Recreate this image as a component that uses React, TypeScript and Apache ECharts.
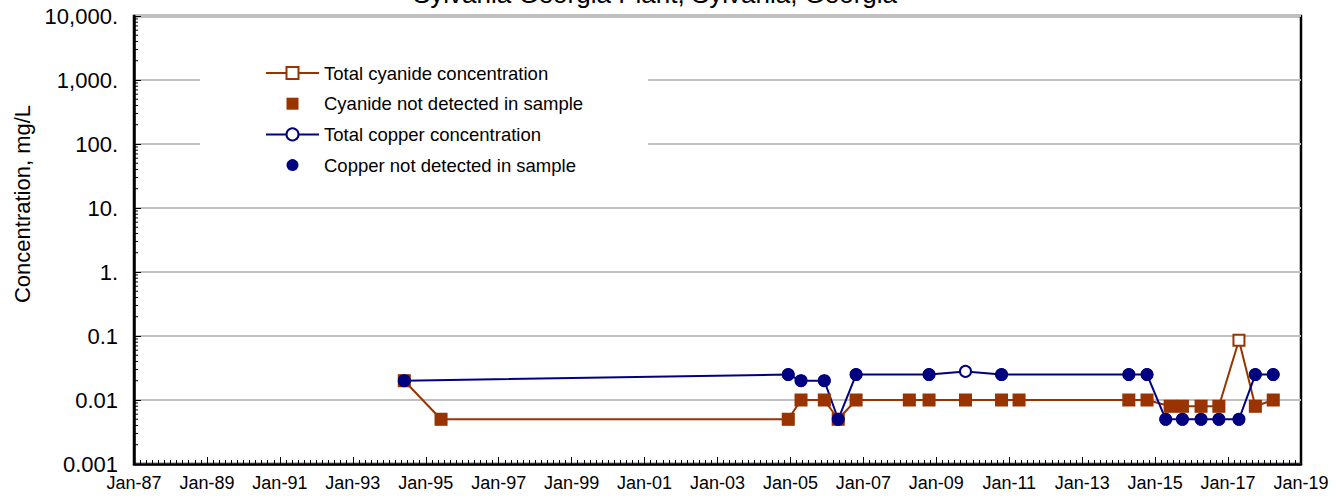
import React, { useEffect, useRef } from "react";
import * as echarts from "echarts";

const titleText = "Sylvania Georgia Plant, Sylvania, Georgia";
const yAxisTitle = "Concentration, mg/L";

const legendNames = [
  "Total cyanide concentration",
  "Cyanide not detected in sample",
  "Total copper concentration",
  "Copper not detected in sample",
];

const cyanideDates = [
  "1994-05-31", "1995-06-03", "2004-12-10", "2005-04-17", "2005-12-06",
  "2006-04-24", "2006-10-20", "2008-04-05", "2008-10-20", "2009-10-20",
  "2010-10-16", "2011-04-09", "2014-04-13", "2014-10-12", "2015-05-31",
  "2015-10-01", "2016-04-05", "2016-10-01", "2017-04-20", "2017-10-01",
  "2018-03-29",
];
const cyanideValues = [
  0.02, 0.005, 0.005, 0.01, 0.01,
  0.005, 0.01, 0.01, 0.01, 0.01,
  0.01, 0.01, 0.01, 0.01, 0.008,
  0.008, 0.008, 0.008, 0.086, 0.008,
  0.01,
];
const cyanideDetected = [
  false, false, false, false, false,
  false, false, false, false, false,
  false, false, false, false, false,
  false, false, false, true, false,
  false,
];

const copperDates = [
  "1994-05-31", "2004-12-10", "2005-04-17", "2005-12-06", "2006-04-24",
  "2006-10-20", "2008-10-20", "2009-10-20", "2010-10-16", "2014-04-13",
  "2014-10-12", "2015-04-17", "2015-10-01", "2016-04-05", "2016-10-01",
  "2017-04-20", "2017-10-01", "2018-03-29",
];
const copperValues = [
  0.02, 0.025, 0.02, 0.02, 0.005,
  0.025, 0.025, 0.028, 0.025, 0.025,
  0.025, 0.005, 0.005, 0.005, 0.005,
  0.005, 0.025, 0.025,
];
const copperDetected = [
  false, false, false, false, false,
  false, false, true, false, false,
  false, false, false, false, false,
  false, false, false,
];

const yTickValues = [0.001, 0.01, 0.1, 1, 10, 100, 1000, 10000];
const yTickLabels = ["0.001", "0.01", "0.1", "1.", "10.", "100.", "1,000.", "10,000."];
const yMinorMultipliers = [2, 3, 4, 5, 6, 7, 8, 9];

const X_MIN = 1987;
const X_MAX = 2019;

const CYAN = "#993300";
const COPPER = "#000080";
const FONT = "'Liberation Sans', Arial, Helvetica, sans-serif";

function toYear(s: string): number {
  const d = Date.parse(s + "T00:00:00Z");
  const y = new Date(d).getUTCFullYear();
  const start = Date.UTC(y, 0, 1);
  const end = Date.UTC(y + 1, 0, 1);
  return y + (d - start) / (end - start);
}

const GRID_LEFT = 134;
const GRID_RIGHT = 42;
const GRID_TOP = 16;
const GRID_BOTTOM = 34;

export default function App() {
  const ref = useRef<HTMLDivElement>(null);
  useEffect(() => {
    if (!ref.current) return;
    const chart = echarts.init(ref.current, undefined, { renderer: "svg" });

    const cyanideLine = cyanideDates.map((d, i) => [toYear(d), cyanideValues[i]]);
    const cyanideND = cyanideDates
      .map((d, i) => (cyanideDetected[i] ? null : [toYear(d), cyanideValues[i]]))
      .filter((p) => p !== null);
    const copperLine = copperDates.map((d, i) => [toYear(d), copperValues[i]]);
    const copperND = copperDates
      .map((d, i) => (copperDetected[i] ? null : [toYear(d), copperValues[i]]))
      .filter((p) => p !== null);

    const minorTicks: number[][] = [];
    for (let i = 0; i < yTickValues.length - 1; i++) {
      for (const m of yMinorMultipliers) minorTicks.push([X_MIN, yTickValues[i] * m]);
    }

    const option: any = {
      animation: false,
      backgroundColor: "#fff",
      textStyle: { fontFamily: FONT },
      grid: {
        left: GRID_LEFT,
        right: GRID_RIGHT,
        top: GRID_TOP,
        bottom: GRID_BOTTOM,
        show: true,
        borderColor: "#000",
        borderWidth: 2.5,
        backgroundColor: "transparent",
      },
      graphic: [
        {
          type: "text",
          x: 655,
          y: -6,
          z: 100,
          style: {
            text: titleText,
            font: `26px ${FONT}`,
            fill: "#000",
            textAlign: "center",
            textVerticalAlign: "middle",
          },
        },
        {
          type: "text",
          x: 22,
          y: 204,
          rotation: Math.PI / 2,
          z: 100,
          style: {
            text: yAxisTitle,
            font: `22px ${FONT}`,
            fill: "#000",
            textAlign: "center",
            textVerticalAlign: "middle",
          },
        },
      ],
      legend: {
        left: 200,
        top: 55,
        orient: "vertical",
        padding: [8, 65, 10, 65],
        backgroundColor: "#fff",
        itemWidth: 53,
        itemHeight: 15,
        itemGap: 10.7,
        selectedMode: false,
        textStyle: { fontSize: 18.5, color: "#000", fontFamily: FONT, lineHeight: 20 },
        data: legendNames,
      },
      xAxis: {
        type: "value",
        min: X_MIN,
        max: X_MAX,
        interval: 2,
        axisLine: { lineStyle: { color: "#000", width: 2.5 } },
        axisTick: { inside: true, length: 7, lineStyle: { color: "#000", width: 1 } },
        minorTick: { show: true, splitNumber: 12, length: 4, lineStyle: { color: "#000", width: 1 } },
        splitLine: { show: false },
        axisLabel: {
          fontSize: 18,
          color: "#000",
          fontFamily: FONT,
          margin: 10,
          formatter: (v: number) => "Jan-" + String(Math.round(v) % 100).padStart(2, "0"),
        },
      },
      yAxis: {
        type: "log",
        logBase: 10,
        min: 0.001,
        max: 10000,
        axisLine: { lineStyle: { color: "#000", width: 2.5 } },
        axisTick: { inside: true, length: 7, lineStyle: { color: "#000", width: 1 } },
        splitLine: { show: true, lineStyle: { color: "#c0c0c0", width: 2 } },
        axisLabel: {
          fontSize: 22,
          color: "#000",
          fontFamily: FONT,
          margin: 16,
          formatter: (v: number) => {
            const idx = yTickValues.findIndex((t) => Math.abs(Math.log10(t) - Math.log10(v)) < 1e-6);
            return idx >= 0 ? yTickLabels[idx] : "";
          },
        },
      },
      series: [
        {
          name: legendNames[0],
          type: "line",
          data: cyanideLine,
          symbol: "emptyRect",
          symbolSize: 11,
          lineStyle: { color: CYAN, width: 2 },
          itemStyle: { color: CYAN, borderWidth: 2 },
          z: 3,
        },
        {
          name: legendNames[1],
          type: "line",
          data: cyanideND,
          symbol: "rect",
          symbolSize: 12,
          lineStyle: { color: CYAN, width: 0, opacity: 0 },
          itemStyle: { color: CYAN, opacity: 1 },
          z: 3,
        },
        {
          name: legendNames[2],
          type: "line",
          data: copperLine,
          symbol: "emptyCircle",
          symbolSize: 11,
          lineStyle: { color: COPPER, width: 2 },
          itemStyle: { color: COPPER, borderWidth: 2 },
          z: 3,
        },
        {
          name: legendNames[3],
          type: "line",
          data: copperND,
          symbol: "circle",
          symbolSize: 12.5,
          lineStyle: { color: COPPER, width: 0, opacity: 0 },
          itemStyle: { color: COPPER, opacity: 1 },
          z: 3,
        },
        {
          name: "yMinorTicks",
          type: "custom",
          data: minorTicks,
          silent: true,
          z: 4,
          renderItem: (params: any, api: any) => {
            const p = api.coord([api.value(0), api.value(1)]);
            return {
              type: "line",
              shape: { x1: p[0], y1: p[1], x2: p[0] + 4, y2: p[1] },
              style: { stroke: "#000", lineWidth: 1 },
            };
          },
        },
      ],
    };
    chart.setOption(option);
    return () => chart.dispose();
  }, []);

  return (
    <div
      ref={ref}
      style={{ position: "fixed", left: 0, top: 0, width: 1343, height: 498, background: "#fff" }}
    />
  );
}
